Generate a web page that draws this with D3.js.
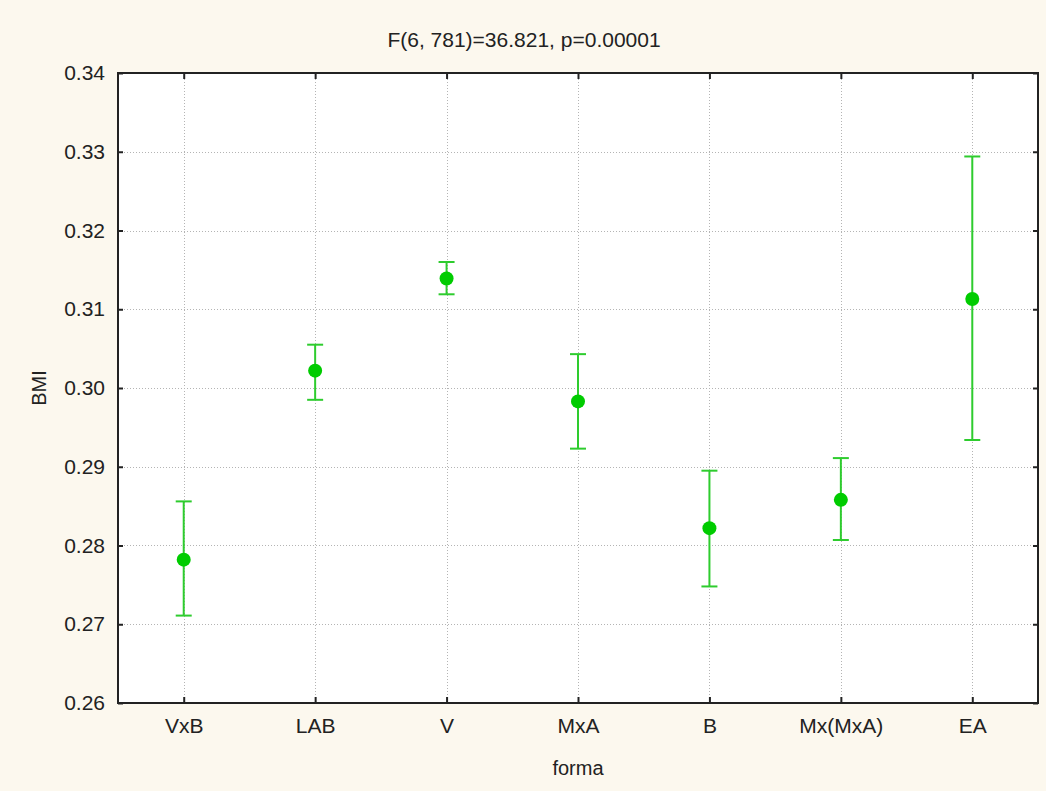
<!DOCTYPE html>
<html><head><meta charset="utf-8">
<script src="https://cdn.jsdelivr.net/npm/d3@7/dist/d3.min.js"></script>
<style>
html,body{margin:0;padding:0;background:#fcf8ee;}
text{font-family:"Liberation Sans",Arial,sans-serif;fill:#222;}
</style></head>
<body>
<svg id="chart" width="1046" height="791"></svg>
<script>
const categories = ["VxB","LAB","V","MxA","B","Mx(MxA)","EA"];
const means = [0.2782,0.3022,0.3139,0.2983,0.2822,0.2858,0.3113];
const upper = [0.2856,0.3055,0.3160,0.3043,0.2895,0.2911,0.3294];
const lower = [0.2711,0.2985,0.3119,0.2923,0.2748,0.2807,0.2934];
const yTicks = [0.26,0.27,0.28,0.29,0.30,0.31,0.32,0.33,0.34];
const titleText = "F(6, 781)=36.821, p=0.00001";
const xTitle = "forma", yTitle = "BMI";

const svg = d3.select("#chart");
const L=118, R=1038, T=73, B=703;
const x = d3.scalePoint().domain(categories).range([L,R]).padding(0.5);
const y = d3.scaleLinear().domain([0.26,0.34]).range([B,T]);

svg.append("rect").attr("x",0).attr("y",0).attr("width",1046).attr("height",791).attr("fill","#fcf8ee");
svg.append("rect").attr("x",L).attr("y",T).attr("width",R-L).attr("height",B-T).attr("fill","#fff");

// grid
const grid = svg.append("g").attr("stroke","#b4b4b4").attr("stroke-width",1).attr("stroke-dasharray","1,2");
grid.selectAll(".gy").data(yTicks.slice(1,-1)).join("line")
  .attr("x1",L).attr("x2",R).attr("y1",d=>Math.round(y(d))+0.5).attr("y2",d=>Math.round(y(d))+0.5);
grid.selectAll(".gx").data(categories).join("line")
  .attr("y1",T).attr("y2",B).attr("x1",d=>Math.round(x(d))+0.5).attr("x2",d=>Math.round(x(d))+0.5);

// axes
const fmt = d3.format(".2f");
const yAxis = d3.axisLeft(y).tickValues(yTicks).tickFormat(fmt).tickSizeInner(-5).tickSizeOuter(0).tickPadding(13);
const gy = svg.append("g").attr("transform",`translate(${L},0)`).call(yAxis);
const yAxisR = d3.axisRight(y).tickValues(yTicks).tickFormat("").tickSizeInner(-5).tickSizeOuter(0);
const gyr = svg.append("g").attr("transform",`translate(${R},0)`).call(yAxisR);
const xAxis = d3.axisBottom(x).tickSizeInner(-6).tickSizeOuter(0).tickPadding(16);
const gx = svg.append("g").attr("transform",`translate(0,${B})`).call(xAxis);
const xAxisT = d3.axisTop(x).tickFormat("").tickSizeInner(-6).tickSizeOuter(0);
const gxt = svg.append("g").attr("transform",`translate(0,${T})`).call(xAxisT);
[gy,gyr,gx,gxt].forEach(g=>{
  g.select(".domain").remove();
  g.selectAll(".tick line").attr("stroke","#222").attr("stroke-width",2);
  g.selectAll(".tick text").attr("font-size",21).attr("fill","#333").style("font-family","'Liberation Sans',Arial,sans-serif");
});
gx.selectAll(".tick text").attr("dy","0.68em");
svg.append("rect").attr("x",L).attr("y",T).attr("width",R-L).attr("height",B-T)
  .attr("fill","none").attr("stroke","#222").attr("stroke-width",2);

// error bars
const eb = svg.append("g").attr("stroke","#2ecc2e").attr("stroke-width",2);
const idx = d3.range(categories.length);
eb.selectAll(".v").data(idx).join("line")
  .attr("x1",i=>x(categories[i])).attr("x2",i=>x(categories[i]))
  .attr("y1",i=>y(upper[i])).attr("y2",i=>y(lower[i]));
eb.selectAll(".cu").data(idx).join("line")
  .attr("x1",i=>x(categories[i])-8).attr("x2",i=>x(categories[i])+8)
  .attr("y1",i=>y(upper[i])).attr("y2",i=>y(upper[i]));
eb.selectAll(".cl").data(idx).join("line")
  .attr("x1",i=>x(categories[i])-8).attr("x2",i=>x(categories[i])+8)
  .attr("y1",i=>y(lower[i])).attr("y2",i=>y(lower[i]));
svg.append("g").selectAll("circle").data(idx).join("circle")
  .attr("cx",i=>x(categories[i])).attr("cy",i=>y(means[i])).attr("r",7)
  .attr("fill","#00cc00");

// titles
svg.append("text").attr("x",524).attr("y",47).attr("text-anchor","middle").attr("font-size",21).text(titleText);
svg.append("text").attr("x",(L+R)/2).attr("y",775).attr("text-anchor","middle").attr("font-size",20).text(xTitle);
svg.append("text").attr("transform",`translate(46,${(T+B)/2}) rotate(-90)`).attr("text-anchor","middle").attr("font-size",20).text(yTitle);
</script>
</body></html>
